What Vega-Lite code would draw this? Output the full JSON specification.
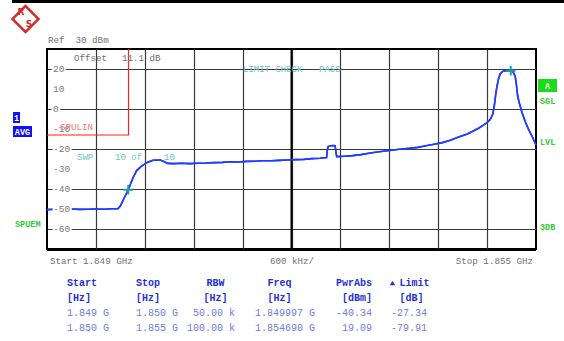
{
  "$schema": "https://vega.github.io/schema/vega-lite/v6.json",
  "width": 489,
  "height": 200,
  "autosize": {"type": "none"},
  "padding": {"left": 47, "top": 49, "right": 28, "bottom": 92},
  "background": "white",
  "view": {"stroke": "#000000", "strokeWidth": 2},
  "config": {"text": {"font": "Liberation Mono"}},
  "datasets": {
    "trace": [
      {"f": 1849.000, "p": -50.3}, {"f": 1849.100, "p": -50.1}, {"f": 1849.200, "p": -50.2}, {"f": 1849.300, "p": -50.0},
      {"f": 1849.400, "p": -50.2}, {"f": 1849.500, "p": -50.1}, {"f": 1849.600, "p": -50.0}, {"f": 1849.700, "p": -50.1},
      {"f": 1849.800, "p": -49.9}, {"f": 1849.870, "p": -49.9}, {"f": 1849.900, "p": -48.5}, {"f": 1849.935, "p": -45.5},
      {"f": 1849.965, "p": -43.0}, {"f": 1849.997, "p": -40.34}, {"f": 1850.030, "p": -37.0}, {"f": 1850.060, "p": -34.0},
      {"f": 1850.100, "p": -30.8}, {"f": 1850.160, "p": -28.6}, {"f": 1850.230, "p": -26.7}, {"f": 1850.300, "p": -25.6},
      {"f": 1850.390, "p": -25.5}, {"f": 1850.440, "p": -26.4}, {"f": 1850.480, "p": -27.2}, {"f": 1850.560, "p": -27.3},
      {"f": 1850.650, "p": -27.1}, {"f": 1850.750, "p": -27.3}, {"f": 1850.850, "p": -27.1}, {"f": 1850.950, "p": -27.0},
      {"f": 1851.050, "p": -26.8}, {"f": 1851.150, "p": -26.7}, {"f": 1851.250, "p": -26.4}, {"f": 1851.350, "p": -26.5},
      {"f": 1851.450, "p": -26.2}, {"f": 1851.550, "p": -26.1}, {"f": 1851.650, "p": -25.9}, {"f": 1851.750, "p": -25.9},
      {"f": 1851.850, "p": -25.7}, {"f": 1851.950, "p": -25.5}, {"f": 1852.050, "p": -25.3}, {"f": 1852.150, "p": -25.2},
      {"f": 1852.250, "p": -24.8}, {"f": 1852.350, "p": -24.6}, {"f": 1852.430, "p": -24.3}, {"f": 1852.440, "p": -20.5},
      {"f": 1852.450, "p": -18.8}, {"f": 1852.480, "p": -18.4}, {"f": 1852.510, "p": -18.3}, {"f": 1852.535, "p": -18.4},
      {"f": 1852.545, "p": -21.5}, {"f": 1852.555, "p": -23.8}, {"f": 1852.650, "p": -23.6}, {"f": 1852.750, "p": -23.3},
      {"f": 1852.850, "p": -22.8}, {"f": 1852.950, "p": -22.1}, {"f": 1853.050, "p": -21.5}, {"f": 1853.150, "p": -21.0},
      {"f": 1853.250, "p": -20.5}, {"f": 1853.350, "p": -20.0}, {"f": 1853.450, "p": -19.6}, {"f": 1853.550, "p": -19.2},
      {"f": 1853.650, "p": -18.4}, {"f": 1853.750, "p": -17.6}, {"f": 1853.850, "p": -16.8}, {"f": 1853.950, "p": -15.6},
      {"f": 1854.050, "p": -14.0}, {"f": 1854.150, "p": -12.6}, {"f": 1854.230, "p": -11.0}, {"f": 1854.300, "p": -9.5},
      {"f": 1854.350, "p": -8.2}, {"f": 1854.400, "p": -6.8}, {"f": 1854.440, "p": -5.2}, {"f": 1854.470, "p": -2.5},
      {"f": 1854.490, "p": 2.0}, {"f": 1854.505, "p": 7.0}, {"f": 1854.520, "p": 11.0}, {"f": 1854.540, "p": 15.0},
      {"f": 1854.560, "p": 17.5}, {"f": 1854.590, "p": 18.8}, {"f": 1854.630, "p": 19.2}, {"f": 1854.690, "p": 19.09},
      {"f": 1854.720, "p": 18.5}, {"f": 1854.745, "p": 16.3}, {"f": 1854.760, "p": 12.0}, {"f": 1854.775, "p": 6.5},
      {"f": 1854.795, "p": 3.0}, {"f": 1854.830, "p": -2.0}, {"f": 1854.870, "p": -6.5}, {"f": 1854.910, "p": -10.3},
      {"f": 1854.950, "p": -13.5}, {"f": 1855.000, "p": -18.0}
    ],
    "limit": [
      {"i": 0, "f": 1849.0, "l": -13},
      {"i": 1, "f": 1850.0, "l": -13},
      {"i": 2, "f": 1850.0, "l": 30}
    ],
    "markers": [
      {"f": 1849.997, "p": -40.34},
      {"f": 1854.690, "p": 19.09}
    ],
    "ylabels": [
      {"v": 20, "t": "20"}, {"v": 10, "t": "10"}, {"v": 0, "t": "0"}, {"v": -10, "t": "-10"},
      {"v": -20, "t": "-20"}, {"v": -30, "t": "-30"}, {"v": -40, "t": "-40"}, {"v": -50, "t": "-50"}, {"v": -60, "t": "-60"}
    ]
  },
  "layer": [
    {
      "data": {"name": "trace"},
      "mark": {"type": "line", "color": "#1f3cff", "strokeWidth": 1.6},
      "encoding": {
        "x": {"field": "f", "type": "quantitative",
          "scale": {"domain": [1849, 1855], "nice": false, "zero": false},
          "axis": {"values": [1849.6, 1850.2, 1850.8, 1851.4, 1852, 1852.6, 1853.2, 1853.8, 1854.4],
            "grid": true, "gridColor": "#3a3a3a", "gridWidth": 1.2, "labels": false, "ticks": false, "domain": false, "title": null}},
        "y": {"field": "p", "type": "quantitative",
          "scale": {"domain": [-70, 30], "nice": false, "zero": false},
          "axis": {"values": [-60, -50, -40, -30, -20, -10, 0, 10, 20],
            "grid": true, "gridColor": "#3a3a3a", "gridWidth": 1.2, "labels": false, "ticks": false, "domain": false, "title": null}}
      }
    },
    {
      "data": {"values": [{}]},
      "mark": {"type": "rule", "color": "#000000", "strokeWidth": 2},
      "encoding": {"x": {"datum": 1852}}
    },
    {
      "data": {"values": [{}]},
      "mark": {"type": "rule", "color": "#000000", "strokeWidth": 2},
      "encoding": {"y": {"datum": -70.5}}
    },
    {
      "data": {"values": [{}]},
      "mark": {"type": "rule", "color": "#000000", "strokeWidth": 3},
      "encoding": {"x": {"datum": 1848.5706}, "x2": {"datum": 1855.3436}, "y": {"datum": 53.75}}
    },
    {
      "data": {"name": "limit"},
      "mark": {"type": "line", "color": "#ff2020", "strokeWidth": 1.2},
      "encoding": {
        "x": {"field": "f", "type": "quantitative"},
        "y": {"field": "l", "type": "quantitative"},
        "order": {"field": "i"}
      }
    },
    {
      "data": {"name": "trace"},
      "mark": {"type": "line", "color": "#1f3cff", "strokeWidth": 1.6},
      "encoding": {
        "x": {"field": "f", "type": "quantitative"},
        "y": {"field": "p", "type": "quantitative"}
      }
    },
    {
      "data": {"name": "markers"},
      "mark": {"type": "point", "shape": "M-1,0H1M0,-1V1", "size": 90, "stroke": "#1a9e9e", "strokeWidth": 2, "filled": false, "opacity": 1},
      "encoding": {
        "x": {"field": "f", "type": "quantitative"},
        "y": {"field": "p", "type": "quantitative"}
      }
    },
    {
      "data": {"name": "ylabels"},
      "mark": {"type": "text", "align": "left", "baseline": "middle", "fontSize": 9.5, "color": "white", "stroke": "white", "strokeWidth": 4},
      "encoding": {"x": {"datum": 1849.0736}, "y": {"field": "v", "type": "quantitative"}, "text": {"field": "t"}}
    },
    {
      "data": {"name": "ylabels"},
      "mark": {"type": "text", "align": "left", "baseline": "middle", "fontSize": 9.5, "color": "#7a7a7a"},
      "encoding": {"x": {"datum": 1849.0736}, "y": {"field": "v", "type": "quantitative"}, "text": {"field": "t"}}
    },
    {
      "data": {"values": [{}]},
      "mark": {"type": "text", "text": "Ref\u00a0\u00a030 dBm", "align": "left", "baseline": "middle", "fontSize": 9.2, "color": "#707070"},
      "encoding": {"x": {"datum": 1849.0123}, "y": {"datum": 34.5}}
    },
    {
      "data": {"values": [{}]},
      "mark": {"type": "text", "text": "Offset", "align": "left", "baseline": "middle", "fontSize": 9.2, "color": "#707070"},
      "encoding": {"x": {"datum": 1849.3313}, "y": {"datum": 25.5}}
    },
    {
      "data": {"values": [{}]},
      "mark": {"type": "text", "text": "11.1 dB", "align": "left", "baseline": "middle", "fontSize": 9.2, "color": "#707070"},
      "encoding": {"x": {"datum": 1849.9202}, "y": {"datum": 25.5}}
    },
    {
      "data": {"values": [{}]},
      "mark": {"type": "text", "text": "LIMIT CHECK", "align": "left", "baseline": "middle", "fontSize": 9, "color": "#6cc4c4"},
      "encoding": {"x": {"datum": 1851.4049}, "y": {"datum": 20}}
    },
    {
      "data": {"values": [{}]},
      "mark": {"type": "text", "text": "PASS", "align": "left", "baseline": "middle", "fontSize": 9, "color": "#6cc4c4"},
      "encoding": {"x": {"datum": 1852.3374}, "y": {"datum": 20}}
    },
    {
      "data": {"values": [{}]},
      "mark": {"type": "text", "text": "SWP", "align": "left", "baseline": "middle", "fontSize": 9, "color": "#6cc4c4"},
      "encoding": {"x": {"datum": 1849.3681}, "y": {"datum": -24}}
    },
    {
      "data": {"values": [{}]},
      "mark": {"type": "text", "text": "10 of", "align": "left", "baseline": "middle", "fontSize": 9, "color": "#6cc4c4"},
      "encoding": {"x": {"datum": 1849.8344}, "y": {"datum": -24}}
    },
    {
      "data": {"values": [{}]},
      "mark": {"type": "text", "text": "10", "align": "left", "baseline": "middle", "fontSize": 9, "color": "#6cc4c4"},
      "encoding": {"x": {"datum": 1850.4356}, "y": {"datum": -24}}
    },
    {
      "data": {"values": [{}]},
      "mark": {"type": "text", "text": "SPULIN", "align": "left", "baseline": "middle", "fontSize": 9.2, "color": "#f07a7a"},
      "encoding": {"x": {"datum": 1849.1595}, "y": {"datum": -9}}
    },
    {
      "data": {"values": [{}]},
      "mark": {"type": "text", "text": "Start 1.849 GHz", "align": "left", "baseline": "middle", "fontSize": 9.2, "color": "#707070"},
      "encoding": {"x": {"datum": 1849.0368}, "y": {"datum": -76}}
    },
    {
      "data": {"values": [{}]},
      "mark": {"type": "text", "text": "600 kHz/", "align": "center", "baseline": "middle", "fontSize": 9.2, "color": "#707070"},
      "encoding": {"x": {"datum": 1852.0061}, "y": {"datum": -76}}
    },
    {
      "data": {"values": [{}]},
      "mark": {"type": "text", "text": "Stop 1.855 GHz", "align": "right", "baseline": "middle", "fontSize": 9.2, "color": "#707070"},
      "encoding": {"x": {"datum": 1854.9632}, "y": {"datum": -76}}
    },
    {
      "data": {"values": [{}]},
      "mark": {"type": "rect", "color": "#1010f0"},
      "encoding": {"x": {"datum": 1848.5828}, "x2": {"datum": 1848.6687}, "y": {"datum": -1.5}, "y2": {"datum": -7}}
    },
    {
      "data": {"values": [{}]},
      "mark": {"type": "rect", "color": "#1010f0"},
      "encoding": {"x": {"datum": 1848.5828}, "x2": {"datum": 1848.8160}, "y": {"datum": -8.5}, "y2": {"datum": -14}}
    },
    {
      "data": {"values": [{}]},
      "mark": {"type": "text", "text": "1", "align": "center", "baseline": "middle", "fontSize": 8.5, "fontWeight": "bold", "color": "white"},
      "encoding": {"x": {"datum": 1848.6258}, "y": {"datum": -4.25}}
    },
    {
      "data": {"values": [{}]},
      "mark": {"type": "text", "text": "AVG", "align": "center", "baseline": "middle", "fontSize": 8.5, "fontWeight": "bold", "color": "white"},
      "encoding": {"x": {"datum": 1848.6994}, "y": {"datum": -11.25}}
    },
    {
      "data": {"values": [{}]},
      "mark": {"type": "rect", "color": "#18dd18"},
      "encoding": {"x": {"datum": 1855.0245}, "x2": {"datum": 1855.2577}, "y": {"datum": 15}, "y2": {"datum": 8.5}}
    },
    {
      "data": {"values": [{}]},
      "mark": {"type": "text", "text": "A", "align": "center", "baseline": "middle", "fontSize": 8.5, "fontWeight": "bold", "color": "white"},
      "encoding": {"x": {"datum": 1855.1411}, "y": {"datum": 11.75}}
    },
    {
      "data": {"values": [{}]},
      "mark": {"type": "text", "text": "SGL", "align": "left", "baseline": "middle", "fontSize": 8.5, "fontWeight": "bold", "color": "#2ecc2e"},
      "encoding": {"x": {"datum": 1855.0491}, "y": {"datum": 4}}
    },
    {
      "data": {"values": [{}]},
      "mark": {"type": "text", "text": "LVL", "align": "left", "baseline": "middle", "fontSize": 8.5, "fontWeight": "bold", "color": "#2ecc2e"},
      "encoding": {"x": {"datum": 1855.0491}, "y": {"datum": -16.6}}
    },
    {
      "data": {"values": [{}]},
      "mark": {"type": "text", "text": "3DB", "align": "left", "baseline": "middle", "fontSize": 8.5, "fontWeight": "bold", "color": "#2ecc2e"},
      "encoding": {"x": {"datum": 1855.0491}, "y": {"datum": -59}}
    },
    {
      "data": {"values": [{}]},
      "mark": {"type": "text", "text": "SPUEM", "align": "left", "baseline": "middle", "fontSize": 8.5, "fontWeight": "bold", "color": "#2ecc2e"},
      "encoding": {"x": {"datum": 1848.6074}, "y": {"datum": -57.5}}
    },
    {
      "data": {"values": [{}]},
      "mark": {"type": "point", "shape": "square", "size": 340, "angle": 45, "stroke": "#d42a2a", "strokeWidth": 2.5, "filled": false, "opacity": 1},
      "encoding": {"x": {"datum": 1848.7362}, "y": {"datum": 45}}
    },
    {
      "data": {"values": [{}]},
      "mark": {"type": "text", "text": "R", "align": "center", "baseline": "middle", "fontSize": 9, "fontWeight": "bold", "color": "#d42a2a", "font": "DejaVu Sans"},
      "encoding": {"x": {"datum": 1848.6810}, "y": {"datum": 48.5}}
    },
    {
      "data": {"values": [{}]},
      "mark": {"type": "text", "text": "S", "align": "center", "baseline": "middle", "fontSize": 9, "fontWeight": "bold", "color": "#d42a2a", "font": "DejaVu Sans"},
      "encoding": {"x": {"datum": 1848.7790}, "y": {"datum": 42.5}}
    },
    {
      "data": {"values": [{}]},
      "mark": {"type": "text", "text": ["Start", "[Hz]"], "lineHeight": 15, "align": "left", "baseline": "alphabetic", "fontSize": 10, "fontWeight": "bold", "color": "#1f30dc"},
      "encoding": {"x": {"datum": 1849.2454}, "y": {"datum": -88.7}}
    },
    {
      "data": {"values": [{}]},
      "mark": {"type": "text", "text": ["1.849 G", "1.850 G"], "lineHeight": 15, "align": "left", "baseline": "alphabetic", "fontSize": 10, "color": "#6d7cf0"},
      "encoding": {"x": {"datum": 1849.2454}, "y": {"datum": -103.7}}
    },
    {
      "data": {"values": [{}]},
      "mark": {"type": "text", "text": ["Stop", "[Hz]"], "lineHeight": 15, "align": "left", "baseline": "alphabetic", "fontSize": 10, "fontWeight": "bold", "color": "#1f30dc"},
      "encoding": {"x": {"datum": 1850.0920}, "y": {"datum": -88.7}}
    },
    {
      "data": {"values": [{}]},
      "mark": {"type": "text", "text": ["1.850 G", "1.855 G"], "lineHeight": 15, "align": "left", "baseline": "alphabetic", "fontSize": 10, "color": "#6d7cf0"},
      "encoding": {"x": {"datum": 1850.0920}, "y": {"datum": -103.7}}
    },
    {
      "data": {"values": [{}]},
      "mark": {"type": "text", "text": ["RBW", "[Hz]"], "lineHeight": 15, "align": "center", "baseline": "alphabetic", "fontSize": 10, "fontWeight": "bold", "color": "#1f30dc"},
      "encoding": {"x": {"datum": 1851.0675}, "y": {"datum": -88.7}}
    },
    {
      "data": {"values": [{}]},
      "mark": {"type": "text", "text": ["50.00 k", "100.00 k"], "lineHeight": 15, "align": "right", "baseline": "alphabetic", "fontSize": 10, "color": "#6d7cf0"},
      "encoding": {"x": {"datum": 1851.3067}, "y": {"datum": -103.7}}
    },
    {
      "data": {"values": [{}]},
      "mark": {"type": "text", "text": ["Freq", "[Hz]"], "lineHeight": 15, "align": "left", "baseline": "alphabetic", "fontSize": 10, "fontWeight": "bold", "color": "#1f30dc"},
      "encoding": {"x": {"datum": 1851.7055}, "y": {"datum": -88.7}}
    },
    {
      "data": {"values": [{}]},
      "mark": {"type": "text", "text": ["1.849997 G", "1.854690 G"], "lineHeight": 15, "align": "left", "baseline": "alphabetic", "fontSize": 10, "color": "#6d7cf0"},
      "encoding": {"x": {"datum": 1851.5521}, "y": {"datum": -103.7}}
    },
    {
      "data": {"values": [{}]},
      "mark": {"type": "text", "text": ["PwrAbs", "[dBm]"], "lineHeight": 15, "align": "right", "baseline": "alphabetic", "fontSize": 10, "fontWeight": "bold", "color": "#1f30dc"},
      "encoding": {"x": {"datum": 1852.9877}, "y": {"datum": -88.7}}
    },
    {
      "data": {"values": [{}]},
      "mark": {"type": "text", "text": ["-40.34", "19.09"], "lineHeight": 15, "align": "right", "baseline": "alphabetic", "fontSize": 10, "color": "#6d7cf0"},
      "encoding": {"x": {"datum": 1852.9877}, "y": {"datum": -103.7}}
    },
    {
      "data": {"values": [{}]},
      "mark": {"type": "text", "text": ["Limit", "[dB]"], "lineHeight": 15, "align": "left", "baseline": "alphabetic", "fontSize": 10, "fontWeight": "bold", "color": "#1f30dc"},
      "encoding": {"x": {"datum": 1853.3252}, "y": {"datum": -88.7}}
    },
    {
      "data": {"values": [{}]},
      "mark": {"type": "point", "shape": "triangle-up", "size": 28, "filled": true, "color": "#1f30dc", "opacity": 1},
      "encoding": {"x": {"datum": 1853.2393}, "y": {"datum": -87}}
    },
    {
      "data": {"values": [{}]},
      "mark": {"type": "text", "text": ["-27.34", "-79.91"], "lineHeight": 15, "align": "left", "baseline": "alphabetic", "fontSize": 10, "color": "#6d7cf0"},
      "encoding": {"x": {"datum": 1853.2209}, "y": {"datum": -103.7}}
    }
  ]
}
